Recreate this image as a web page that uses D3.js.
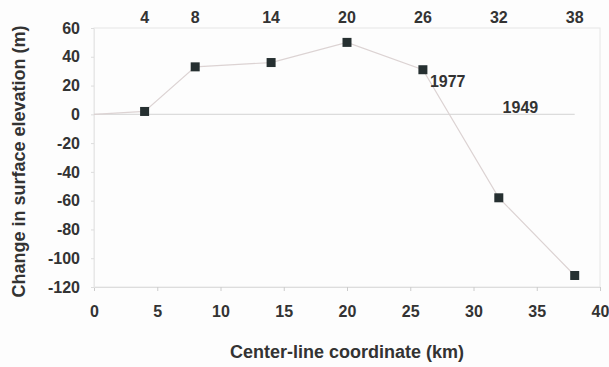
<!DOCTYPE html>
<html>
<head>
<meta charset="utf-8">
<script src="https://cdn.jsdelivr.net/npm/d3@7"></script>
<style>
  body { margin: 0; background: #fdfdfd; }
  text { font-family: "Liberation Sans", Arial, sans-serif; fill: #333; font-weight: bold; }
</style>
</head>
<body>
<div id="chart"></div>
<script>
// profile data
const km1977 = [0, 4, 8, 14, 20, 26, 32, 38];
const dh1977 = [0, 2, 33, 36, 50, 31, -58, -112];
const marked = [false, true, true, true, true, true, true, true];
const topTicks = [4, 8, 14, 20, 26, 32, 38];
const xTicks = [0, 5, 10, 15, 20, 25, 30, 35, 40];
const yTicks = [60, 40, 20, 0, -20, -40, -60, -80, -100, -120];

const width = 609, height = 367;
const margin = { top: 28, right: 9, bottom: 80, left: 94 };

const svg = d3.select("#chart").append("svg")
    .attr("width", width)
    .attr("height", height);

const x = d3.scaleLinear().domain([0, 40]).range([margin.left, width - margin.right]);
const y = d3.scaleLinear().domain([-120, 60]).range([height - margin.bottom, margin.top]);

// plain hyphen for negatives, like the original
const fmt = d => String(d);

// faint frame, as on the scanned figure
svg.append("rect")
    .attr("x", x(0)).attr("y", y(60))
    .attr("width", x(40) - x(0)).attr("height", y(-120) - y(60))
    .attr("fill", "none")
    .attr("stroke", "#e6e6e6")
    .attr("stroke-width", 1);

// bottom axis
const xAxis = svg.append("g")
    .attr("transform", `translate(0,${y(-120)})`)
    .call(d3.axisBottom(x).tickValues(xTicks).tickSize(4).tickPadding(15).tickFormat(fmt));
xAxis.select(".domain").attr("stroke", "#ddd");
xAxis.selectAll(".tick line").attr("stroke", "#ccc");
xAxis.selectAll("text").style("font-size", "16px").style("fill", "#333");

// left axis
const yAxis = svg.append("g")
    .attr("transform", `translate(${x(0)},0)`)
    .call(d3.axisLeft(y).tickValues(yTicks).tickSize(3).tickPadding(11).tickFormat(fmt));
yAxis.select(".domain").attr("stroke", "#e8e8e8");
yAxis.selectAll(".tick line").attr("stroke", "#ddd");
yAxis.selectAll("text").style("font-size", "16px").style("fill", "#333");

// top labels: sample points along the center line
svg.append("g")
    .selectAll("text")
    .data(topTicks)
    .enter().append("text")
    .attr("x", d => x(d))
    .attr("y", y(60) - 5)
    .attr("text-anchor", "middle")
    .style("font-size", "16px")
    .text(d => d);

// 1949 reference surface (zero change)
svg.append("line")
    .attr("x1", x(0)).attr("x2", x(38))
    .attr("y1", y(0)).attr("y2", y(0))
    .attr("stroke", "#dcdcdc")
    .attr("stroke-width", 1.2);

// 1977 profile
const line = d3.line()
    .x((d, i) => x(km1977[i]))
    .y(d => y(d));

svg.append("path")
    .datum(dh1977)
    .attr("fill", "none")
    .attr("stroke", "#dcd3d3")
    .attr("stroke-width", 1.2)
    .attr("d", line);

svg.append("g")
    .selectAll("rect")
    .data(dh1977.map((d, i) => ({ km: km1977[i], dh: d, show: marked[i] })).filter(d => d.show))
    .enter().append("rect")
    .attr("x", d => x(d.km) - 4.5)
    .attr("y", d => y(d.dh) - 4.5)
    .attr("width", 9)
    .attr("height", 9)
    .attr("fill", "#263031");

// series labels
svg.append("text")
    .attr("x", x(26) + 7).attr("y", y(31) + 17)
    .style("font-size", "16px")
    .text("1977");

svg.append("text")
    .attr("x", x(32.3)).attr("y", y(0) - 1)
    .style("font-size", "16px")
    .text("1949");

// axis titles
svg.append("text")
    .attr("x", (x(0) + x(40)) / 2)
    .attr("y", height - 9)
    .attr("text-anchor", "middle")
    .style("font-size", "18px")
    .text("Center-line coordinate (km)");

svg.append("text")
    .attr("transform", `translate(25,${(y(60) + y(-120)) / 2 + 4}) rotate(-90)`)
    .attr("text-anchor", "middle")
    .style("font-size", "18px")
    .text("Change in surface elevation (m)");
</script>
</body>
</html>
